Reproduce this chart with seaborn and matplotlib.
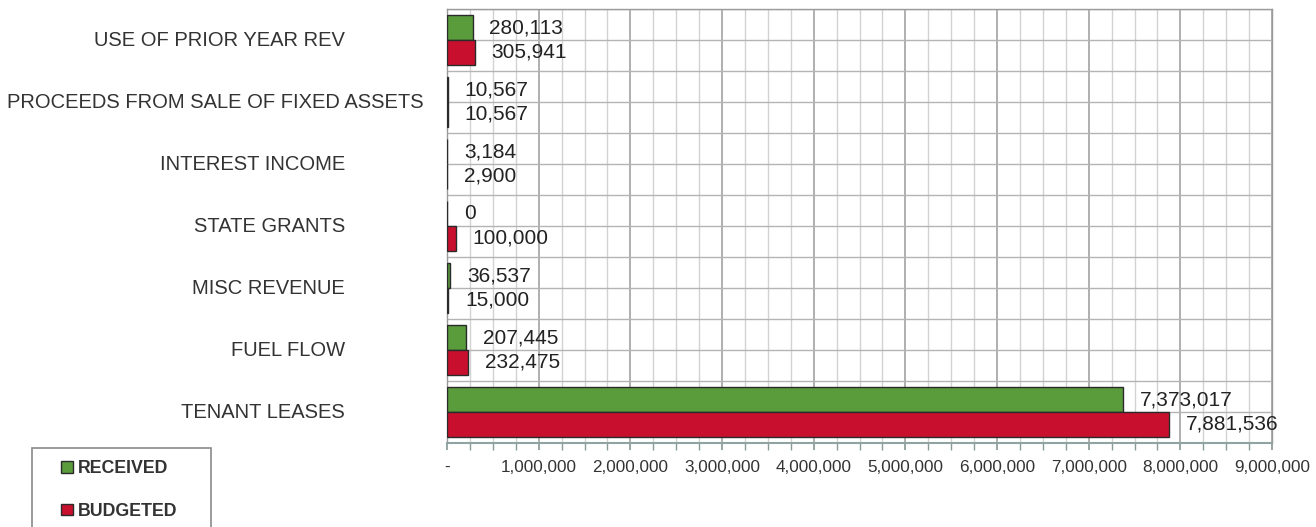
import matplotlib
matplotlib.use("Agg")
import matplotlib.pyplot as plt
import matplotlib.ticker as mticker
from matplotlib.patches import Rectangle
import seaborn as sns
import pandas as pd

categories = ["USE OF PRIOR YEAR REV", "PROCEEDS FROM SALE OF FIXED ASSETS",
              "INTEREST INCOME", "STATE GRANTS", "MISC REVENUE", "FUEL FLOW",
              "TENANT LEASES"]
received = [280113, 10567, 3184, 0, 36537, 207445, 7373017]
budgeted = [305941, 10567, 2900, 100000, 15000, 232475, 7881536]
series = ["RECEIVED", "BUDGETED"]
x_ticks = [0, 1000000, 2000000, 3000000, 4000000, 5000000, 6000000,
           7000000, 8000000, 9000000]

sns.set_theme(style="white")
plt.rcParams["font.family"] = ["Liberation Sans", "DejaVu Sans"]

df = pd.DataFrame({
    "category": categories * 2,
    "series": [series[0]] * len(categories) + [series[1]] * len(categories),
    "value": received + budgeted,
})

W, H = 1316, 527
fig = plt.figure(figsize=(W / 100, H / 100), dpi=100)
ax_left, ax_right, ax_top, ax_bot = 447, 1272, 9, 443
ax = fig.add_axes([ax_left / W, 1 - ax_bot / H, (ax_right - ax_left) / W,
                   (ax_bot - ax_top) / H])

palette = {"RECEIVED": "#5a9b3c", "BUDGETED": "#c8102e"}
sns.barplot(data=df, y="category", x="value", hue="series", order=categories,
            hue_order=series, palette=palette, orient="h", width=0.8,
            edgecolor="#2a2a2a", linewidth=1.0, saturation=1, ax=ax, zorder=3)

for cont in ax.containers:
    ax.bar_label(cont, labels=[f"{v:,.0f}" for v in cont.datavalues],
                 padding=12, fontsize=15, color="#222222")

ax.set_xlim(0, 9000000)
ax.set_ylim(len(categories) - 0.5, -0.5)
ax.set_xticks(x_ticks)
ax.set_xticklabels(["-" if v == 0 else f"{v:,}" for v in x_ticks],
                   fontsize=12.3, color="#333333")
ax.xaxis.set_minor_locator(mticker.MultipleLocator(250000))
ax.set_yticks(range(len(categories)))
ax.set_yticklabels([])
ax.set_yticks([i + 0.5 for i in range(-1, len(categories))], minor=True)
ax.tick_params(axis="x", which="both", bottom=True, length=5, color="#8a9a9a",
               pad=7)
ax.tick_params(axis="y", which="both", left=False)
ax.grid(axis="x", which="major", color="#9a9a9a", linewidth=1.1, zorder=0)
ax.grid(axis="x", which="minor", color="#d2d2d2", linewidth=1.0, zorder=0)
ax.grid(axis="y", which="both", color="#b4b4b4", linewidth=1.0, zorder=0)
ax.set_axisbelow(True)
ax.set_xlabel("")
ax.set_ylabel("")
for s in ["top", "right", "left"]:
    ax.spines[s].set_color("#9a9a9a")
    ax.spines[s].set_linewidth(1.0)
ax.spines["bottom"].set_color("#8fa3a3")
ax.spines["bottom"].set_linewidth(1.5)

# category labels, right-aligned; shifted right if they'd run off the figure
fig.canvas.draw()
renderer = fig.canvas.get_renderer()
axw = ax_right - ax_left
for i, c in enumerate(categories):
    t = ax.text((345 - ax_left) / axw, i, c, transform=ax.get_yaxis_transform(),
                ha="right", va="center", fontsize=14.5, color="#333333")
    bb = t.get_window_extent(renderer)
    if bb.x0 < 7:
        t.set_x((345 - ax_left + (7 - bb.x0)) / axw)

# legend
handles, labels = ax.get_legend_handles_labels()
ax.get_legend().remove()
fig.patches.append(Rectangle((32 / W, 1 - 545 / H), (211 - 32) / W, (545 - 448) / H,
                             transform=fig.transFigure, fill=False,
                             edgecolor="#8a8a8a", linewidth=1.2))
leg = fig.legend(handles, labels, loc="upper left",
                 bbox_to_anchor=(61 / W, 1 - 460 / H), frameon=False,
                 borderpad=0, borderaxespad=0, labelspacing=1.45,
                 handlelength=0.65, handleheight=0.65, handletextpad=0.3,
                 prop={"weight": "bold", "size": 12.8})
for t in leg.get_texts():
    t.set_color("#333333")

fig.savefig("out.png", dpi=100)
